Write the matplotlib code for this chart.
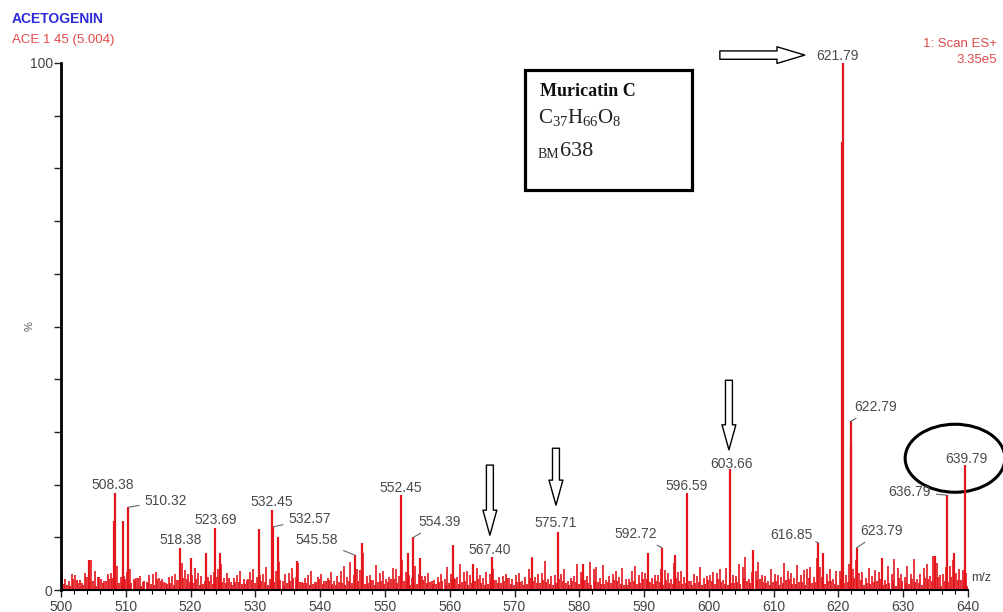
import matplotlib
matplotlib.use('Agg')
import matplotlib.pyplot as plt
from matplotlib.patches import Ellipse, Rectangle
import numpy as np

plt.rcParams['font.family'] = ['Liberation Sans', 'DejaVu Sans']
plt.rcParams['mathtext.fontset'] = 'custom'
plt.rcParams['mathtext.rm'] = 'Liberation Serif'

# main peaks (m/z, % intensity)
peak_mz = [504.3, 508.2, 508.3, 509.5, 510.4, 518.4, 520.0, 522.4, 523.8, 524.5,
           530.6, 532.5, 532.8, 533.5, 536.4, 545.4, 546.5, 552.5, 553.6, 554.4,
           555.4, 560.5, 563.6, 566.5, 572.7, 576.7, 580.6, 590.6, 592.8, 594.8,
           596.6, 603.2, 606.8, 616.9, 617.6, 620.6, 620.7, 621.9, 622.0, 622.8,
           626.7, 634.9, 636.7, 637.8, 639.5]
peak_int = [5.7, 13.0, 18.4, 13.0, 15.7, 8.0, 6.0, 7.0, 11.8, 7.0,
            11.6, 15.2, 12.0, 10.0, 5.5, 6.6, 9.0, 18.0, 7.0, 10.0,
            6.0, 8.5, 5.0, 6.3, 6.0, 11.0, 5.0, 7.0, 8.0, 6.6,
            18.4, 23.0, 7.6, 9.0, 7.0, 85.0, 100.0, 32.0, 27.5, 8.0,
            6.0, 6.5, 18.0, 7.0, 23.7]

# baseline noise, samples per m/z unit (500.2, 500.42, 500.65, 500.88 + i)
noise_a = [3.2, 1.8, 2.9, 1.4, 2.5, 3.6, 2.1, 3.0, 1.6, 2.4,
           3.4, 2.0, 2.7, 1.5, 3.1, 2.2, 1.3, 2.6, 1.9, 3.8,
           2.9, 3.3, 1.7, 2.8, 3.9, 2.3, 1.6, 2.9, 2.1, 3.5,
           2.4, 3.1, 2.0, 3.7, 1.8, 3.3, 2.5, 1.6, 2.8, 1.5,
           3.0, 2.2, 1.7, 3.6, 2.4, 2.9, 3.8, 2.6, 1.9, 3.3,
           2.1, 4.2, 2.6, 3.4, 2.2, 3.0, 2.7, 1.8, 2.5, 2.0,
           3.1, 2.4, 3.5, 2.8, 4.1, 2.2, 3.0, 1.9, 2.6, 2.3,
           2.8, 1.7, 3.9, 2.5, 3.3, 2.1, 2.9, 3.0, 1.8, 2.7,
           3.5, 2.6, 4.0, 2.2, 1.9, 3.1, 2.4, 2.0, 3.6, 2.8,
           3.2, 2.3, 2.9, 3.8, 2.0, 3.4, 2.5, 1.8, 2.7, 2.2,
           2.9, 3.3, 1.9, 2.4, 2.6, 4.3, 2.1, 3.7, 2.8, 1.7,
           3.0, 2.4, 3.6, 2.2, 2.9, 3.9, 2.5, 4.4, 3.1, 2.0,
           3.6, 2.8, 4.0, 3.2, 2.3, 2.7, 3.5, 1.9, 3.0, 4.2,
           2.4, 3.1, 2.0, 4.1, 2.7, 5.2, 3.0, 4.6, 3.3, 3.8,
           1.5]
noise_b = [2.0, 3.1, 1.3, 3.3, 5.7, 2.4, 1.8, 3.2, 4.5, 2.7,
           3.9, 2.3, 1.5, 2.8, 3.4, 2.0, 2.5, 3.0, 5.2, 3.1,
           4.1, 2.6, 2.4, 3.5, 5.0, 3.3, 2.2, 3.6, 1.9, 4.0,
           2.8, 4.4, 2.5, 5.4, 3.0, 4.2, 5.1, 2.2, 3.7, 2.5,
           1.8, 3.5, 2.7, 4.6, 5.3, 4.0, 7.0, 2.9, 4.8, 3.6,
           2.4, 3.9, 5.6, 2.8, 4.5, 2.6, 3.3, 1.9, 3.0, 4.3,
           2.3, 5.0, 3.6, 4.9, 2.9, 3.4, 4.0, 2.5, 3.1, 2.0,
           3.3, 2.5, 6.3, 3.0, 5.5, 2.7, 3.4, 4.0, 2.2, 4.9,
           3.1, 5.4, 4.3, 4.8, 2.6, 3.7, 4.2, 2.1, 4.6, 3.5,
           6.0, 2.8, 4.0, 3.3, 5.1, 3.6, 4.1, 3.0, 4.4, 2.6,
           3.5, 3.9, 4.1, 2.9, 5.0, 6.2, 3.4, 5.3, 2.6, 4.0,
           2.8, 5.1, 3.2, 4.7, 3.8, 4.3, 6.0, 5.4, 4.0, 3.6,
           2.2, 4.9, 5.6, 3.4, 4.1, 3.8, 5.3, 4.6, 5.8, 3.0,
           4.5, 5.9, 3.1, 5.0, 6.5, 2.9, 4.4, 5.7, 3.9, 3.2,
           2.0]
noise_c = [1.2, 0.8, 1.9, 1.0, 1.5, 0.7, 1.3, 2.0, 0.9, 1.6,
           1.1, 1.8, 0.8, 1.4, 1.0, 1.7, 1.2, 0.9, 1.5, 2.1,
           1.3, 1.0, 1.8, 1.1, 2.2, 1.4, 0.9, 1.6, 1.2, 1.9,
           1.0, 1.5, 1.3, 2.0, 0.8, 1.7, 1.1, 1.4, 0.9, 1.6,
           1.2, 1.9, 1.0, 1.3, 1.8, 1.1, 2.3, 1.4, 1.0, 1.7,
           1.5, 2.0, 1.2, 1.6, 0.9, 1.8, 1.3, 1.1, 1.5, 1.0,
           1.9, 1.2, 1.7, 1.4, 2.1, 1.0, 1.6, 1.3, 1.8, 1.1,
           1.5, 1.0, 2.2, 1.3, 1.9, 1.2, 1.4, 1.7, 1.0, 1.6,
           2.0, 1.3, 1.8, 1.1, 1.5, 1.9, 1.2, 1.0, 1.7, 1.4,
           2.1, 1.2, 1.6, 1.9, 1.1, 1.8, 1.3, 1.0, 1.5, 1.2,
           1.7, 2.0, 1.1, 1.4, 1.6, 2.2, 1.3, 1.9, 1.5, 1.0,
           1.8, 1.3, 2.1, 1.2, 1.6, 2.3, 1.5, 2.4, 1.8, 1.1,
           2.0, 1.6, 2.2, 1.9, 1.3, 1.5, 2.1, 1.2, 1.8, 2.3,
           1.4, 2.0, 1.3, 2.2, 1.7, 2.5, 1.8, 2.4, 1.9, 2.0,
           1.0]

# peak labels: text, label position (m/z, %), leader target or None
labels = ['508.38', '510.32', '518.38', '523.69', '532.45', '532.57', '545.58',
          '552.45', '554.39', '567.40', '575.71', '592.72', '596.59', '603.66',
          '616.85', '621.79', '622.79', '623.79', '636.79', '639.79']
label_x = [508.0, 516.2, 518.4, 523.8, 532.6, 538.4, 539.5, 552.5, 558.5, 566.2,
           576.4, 588.7, 596.5, 603.5, 612.8, 619.8, 625.7, 626.7, 631.0, 639.8]
label_y = [19.9, 16.9, 9.5, 13.3, 16.7, 13.5, 9.5, 19.4, 12.9, 7.6,
           12.7, 10.6, 19.7, 23.9, 10.4, 101.3, 34.7, 11.2, 18.6, 24.9]
leader_to = [None, (510.4, 15.7), None, None, None, (532.8, 12.0), (545.4, 6.6),
             None, (554.4, 10.0), None, None, (592.8, 8.0), None, None,
             (616.9, 9.0), None, (621.9, 32.0), (622.8, 8.0), (636.7, 18.0), None]

xticks = list(range(500, 641, 10))

fig = plt.figure(figsize=(10.04, 6.12), dpi=100)
ax = fig.add_axes([61/1004, 22/612, 907/1004, 527/612])

red = '#e3161c'
idx = np.arange(141)
ax.vlines(idx + 500.2, 0, noise_a, color=red, lw=1.4, alpha=0.85)
ax.vlines(idx + 500.42, 0, noise_c, color=red, lw=1.4, alpha=0.9)
ax.vlines(idx + 500.65, 0, noise_b, color=red, lw=1.4, alpha=0.85)
ax.vlines(idx + 500.88, 0, noise_c[::-1], color=red, lw=1.4, alpha=0.9)
ax.vlines(peak_mz, 0, peak_int, color=red, lw=1.6, clip_on=False)

ax.set_xlim(500, 640)
ax.set_ylim(0, 100)
for s in ['top', 'right']:
    ax.spines[s].set_visible(False)
ax.spines['left'].set_linewidth(2.0)
ax.spines['bottom'].set_linewidth(1.5)
ax.set_xticks(xticks)
ax.set_xticks(np.arange(500, 641, 2), minor=True)
ax.set_yticks(np.arange(0, 101, 10))
ax.set_yticklabels(['0'] + [''] * 9 + ['100'])
ax.tick_params(axis='both', direction='out', colors='#222', labelcolor='#444',
               labelsize=10, length=5, width=1)
ax.tick_params(axis='x', which='minor', length=3, width=0.8)
ax.tick_params(axis='x', pad=2)
ax.tick_params(axis='y', pad=1)

ax.text(-0.035, 0.5, '%', transform=ax.transAxes, rotation=90, fontsize=8,
        color='#555', ha='center', va='center')
ax.text(1.004, 0.022, 'm/z', transform=ax.transAxes, fontsize=9, color='#444',
        ha='left', va='center')

for t, lx, ly, tgt in zip(labels, label_x, label_y, leader_to):
    if tgt is None:
        ax.text(lx, ly, t, fontsize=10, color='#4a4a4a', ha='center', va='center',
                clip_on=False)
    else:
        ax.annotate(t, xy=tgt, xytext=(lx, ly), fontsize=10, color='#4a4a4a',
                    ha='center', va='center', annotation_clip=False,
                    arrowprops=dict(arrowstyle='-', color='#666', lw=0.8,
                                    shrinkA=2, shrinkB=0))

# hollow arrows
arrow_style = 'simple,head_length=18,head_width=10,tail_width=5'
for x0, y_top, y_tip in [(566.2, 23.7, 10.4), (576.4, 26.9, 16.1), (603.1, 39.8, 26.6)]:
    ax.annotate('', xy=(x0, y_tip), xytext=(x0, y_top),
                arrowprops=dict(arrowstyle=arrow_style, mutation_scale=1,
                                fc='white', ec='black', lw=1, shrinkA=0, shrinkB=0))
ax.annotate('', xy=(614.8, 101.5), xytext=(601.7, 101.5), annotation_clip=False,
            arrowprops=dict(arrowstyle='simple,head_length=20,head_width=12,tail_width=6',
                            mutation_scale=1, fc='white', ec='black', lw=1,
                            shrinkA=0, shrinkB=0))

ax.add_patch(Ellipse((638.0, 25.0), 15.4, 12.9, fill=False, ec='black', lw=2.2,
                     clip_on=False))

# compound box
fig.patches.append(Rectangle((525/1004, 422/612), 167/1004, 120/612, fill=False,
                             ec='black', lw=2.3, transform=fig.transFigure))
fig.text(540/1004, 1 - 92/612, 'Muricatin C', family='Liberation Serif',
         fontweight='bold', fontsize=13, va='center', color='#111')
fig.text(538/1004, 1 - 118/612, r'$\mathrm{C_{37}H_{66}O_8}$', fontsize=15,
         va='center', color='#222')
fig.text(538/1004, 1 - 155/612, 'BM', family='Liberation Serif', fontsize=10,
         va='center', color='#222')
fig.text(560/1004, 1 - 151/612, '638', family='Liberation Serif', fontsize=16,
         va='center', color='#222')

# header texts
fig.text(12/1004, 1 - 19/612, 'ACETOGENIN', color='#2b2bd6', fontweight='bold',
         fontsize=10, va='center')
fig.text(12/1004, 1 - 40/612, 'ACE 1 45 (5.004)', color='#e04a4a', fontsize=9.5,
         va='center')
fig.text(997/1004, 1 - 44/612, '1: Scan ES+', color='#e04a4a', fontsize=9.5,
         va='center', ha='right')
fig.text(997/1004, 1 - 60/612, '3.35e5', color='#e04a4a', fontsize=9.5,
         va='center', ha='right')

fig.savefig('out.png', dpi=100)
